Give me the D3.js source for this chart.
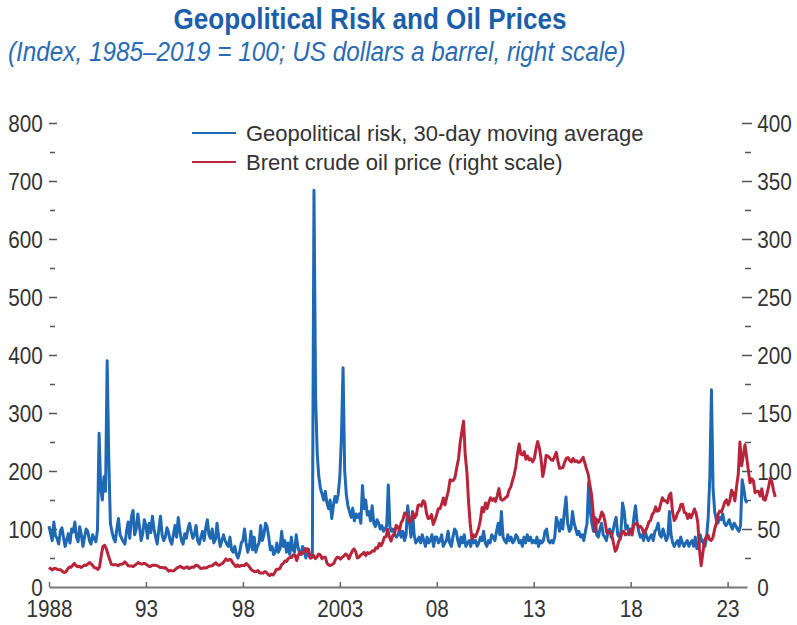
<!DOCTYPE html>
<html>
<head>
<meta charset="utf-8">
<script src="https://cdn.jsdelivr.net/npm/d3@7"></script>
<style>
  body { margin: 0; background: #fff; }
  svg text { font-family: "Liberation Sans", Arial, sans-serif; }
</style>
</head>
<body>
<svg id="chart" width="797" height="625"></svg>
<script>
// monthly series, starting January 1988
var startYear = 1988

// Geopolitical risk index, 30-day moving average (left scale), Jan 1988 - Jan 2024
var gprValues = [
  105, 92, 80, 112, 88, 84, 74, 96, 102, 85, 70, 82,      // 1988
  92, 76, 100, 95, 112, 86, 78, 104, 90, 70, 86, 100,     // 1989
  96, 80, 74, 90, 84, 78, 98, 265, 170, 150, 190, 165,    // 1990
  390, 220, 110, 95, 84, 78, 100, 118, 90, 84, 78, 74,    // 1991
  96, 112, 84, 120, 132, 90, 100, 126, 104, 80, 92, 116,  // 1992
  106, 84, 110, 94, 122, 100, 86, 74, 100, 122, 90, 80,   // 1993
  86, 102, 94, 80, 74, 90, 106, 86, 120, 96, 80, 74,      // 1994
  92, 84, 100, 110, 96, 84, 90, 106, 80, 74, 86, 96,      // 1995
  80, 102, 116, 90, 84, 100, 76, 82, 110, 86, 70, 80,     // 1996
  90, 80, 74, 70, 86, 64, 60, 70, 56, 50, 60, 76,         // 1997
  80, 100, 76, 60, 70, 96, 64, 86, 60, 70, 76, 106,       // 1998
  80, 90, 110, 104, 86, 64, 70, 56, 60, 76, 60, 66,       // 1999
  96, 70, 80, 60, 76, 56, 86, 64, 60, 90, 70, 60,         // 2000
  56, 70, 60, 50, 66, 54, 50, 60, 684, 330, 230, 190,     // 2001
  170, 160, 150, 165, 145, 135, 150, 118, 140, 156, 146, 160, // 2002
  190, 260, 378, 200, 160, 140, 130, 120, 136, 114, 126, 120, // 2003
  126, 110, 175, 135, 150, 124, 130, 114, 140, 110, 104, 116, // 2004
  110, 100, 106, 96, 100, 106, 176, 104, 96, 100, 90, 86, // 2005
  90, 100, 86, 96, 80, 90, 140, 116, 86, 130, 90, 76,     // 2006
  80, 86, 76, 90, 80, 70, 86, 76, 80, 90, 70, 86,         // 2007
  86, 76, 80, 90, 70, 76, 80, 96, 76, 70, 86, 100,        // 2008
  96, 80, 70, 86, 76, 90, 70, 76, 80, 70, 86, 76,         // 2009
  80, 70, 76, 86, 80, 96, 76, 70, 80, 76, 90, 86,         // 2010
  80, 96, 110, 90, 130, 86, 80, 76, 90, 80, 86, 76,       // 2011
  80, 90, 86, 76, 80, 70, 86, 76, 90, 80, 86, 76,         // 2012
  80, 76, 86, 70, 80, 76, 80, 96, 100, 80, 76, 80,        // 2013
  76, 86, 120, 110, 96, 116, 100, 130, 155, 110, 96, 100, // 2014
  130, 110, 100, 90, 96, 86, 90, 80, 96, 110, 180, 130,   // 2015
  110, 96, 120, 90, 86, 100, 110, 90, 86, 80, 96, 100,    // 2016
  86, 96, 110, 120, 90, 86, 96, 145, 130, 100, 106, 90,   // 2017
  100, 96, 120, 140, 110, 96, 86, 90, 80, 96, 86, 80,     // 2018
  86, 90, 80, 96, 100, 110, 90, 86, 100, 90, 80, 86,      // 2019
  130, 90, 76, 70, 76, 80, 70, 86, 76, 70, 76, 80,        // 2020
  70, 76, 80, 70, 86, 66, 70, 90, 80, 76, 70, 86,         // 2021
  120, 190, 340, 170, 130, 116, 110, 120, 116, 126, 110, 106, // 2022
  110, 116, 106, 100, 110, 106, 100, 96, 106, 185, 170, 150,  // 2023
  145                                                     // 2024
]

// Brent crude oil price, US dollars a barrel (right scale), Jan 1988 - Dec 2023
var oilValues = [
  16.8, 15.7, 14.7, 16.0, 15.9, 15.2, 14.9, 14.9, 13.4, 12.4, 13.0, 15.3, // 1988
  17.2, 16.9, 18.6, 20.3, 18.5, 17.4, 17.9, 16.9, 17.7, 18.9, 18.6, 19.8, // 1989
  21.1, 19.9, 18.4, 16.6, 16.4, 15.1, 17.2, 27.2, 34.9, 36.0, 33.0, 28.3, // 1990
  23.6, 19.5, 19.1, 19.2, 19.2, 18.3, 19.4, 19.6, 20.2, 21.6, 20.2, 18.3, // 1991
  18.2, 18.2, 17.6, 18.8, 19.9, 21.0, 20.2, 19.7, 20.2, 20.3, 19.1, 18.2, // 1992
  17.5, 18.5, 18.8, 18.7, 18.5, 17.7, 16.8, 16.9, 16.3, 16.8, 15.3, 13.7, // 1993
  14.4, 13.9, 13.8, 15.1, 16.4, 17.1, 17.9, 16.9, 16.1, 16.6, 17.5, 15.9, // 1994
  16.6, 17.2, 17.0, 18.7, 18.6, 17.4, 16.0, 16.2, 16.6, 16.3, 17.0, 17.9, // 1995
  18.0, 18.4, 19.9, 20.9, 19.2, 18.6, 19.7, 20.4, 22.2, 24.3, 22.8, 23.7, // 1996
  23.5, 20.9, 19.2, 17.5, 19.0, 17.6, 18.5, 18.6, 18.5, 20.2, 19.1, 17.1, // 1997
  15.1, 14.1, 13.2, 13.3, 14.2, 12.1, 12.0, 12.0, 13.4, 12.6, 11.0, 9.8,  // 1998
  11.1, 10.3, 12.5, 15.2, 15.3, 15.9, 19.0, 20.3, 22.5, 22.0, 24.6, 25.5, // 1999
  25.5, 27.8, 27.5, 22.7, 27.7, 29.8, 28.6, 30.0, 33.1, 30.9, 32.5, 25.0, // 2000
  25.6, 27.5, 24.5, 25.6, 28.4, 27.7, 24.5, 25.7, 25.6, 20.5, 18.9, 18.6, // 2001
  19.4, 20.3, 23.7, 25.7, 25.4, 24.1, 25.7, 26.7, 28.4, 27.5, 24.3, 28.0, // 2002
  31.2, 32.8, 30.3, 25.0, 25.8, 27.6, 28.4, 29.8, 27.1, 29.6, 28.8, 29.8, // 2003
  31.3, 30.9, 33.8, 33.4, 37.6, 35.5, 38.4, 43.0, 43.3, 49.8, 43.1, 39.6, // 2004
  44.5, 45.5, 53.1, 51.9, 49.0, 55.6, 57.9, 63.8, 63.7, 59.4, 56.2, 57.6, // 2005
  63.9, 59.7, 62.3, 70.4, 70.9, 69.7, 74.4, 73.0, 63.8, 59.0, 59.5, 62.4, // 2006
  53.9, 57.6, 62.1, 67.4, 67.5, 71.3, 76.8, 70.8, 77.2, 82.8, 92.5, 91.5, // 2007
  91.9, 94.8, 103.3, 110.4, 124.6, 134.0, 143.0, 113.4, 99.1, 72.8, 53.2, 41.6, // 2008
  44.9, 43.2, 46.8, 50.8, 57.9, 68.6, 64.9, 72.5, 67.7, 73.2, 77.0, 74.7, // 2009
  76.2, 73.8, 78.8, 84.8, 75.9, 74.8, 75.6, 77.1, 78.2, 83.5, 86.1, 91.4, // 2010
  96.5, 103.7, 114.6, 123.3, 114.5, 113.9, 116.7, 110.2, 112.8, 109.6, 110.5, 107.9, // 2011
  110.7, 119.3, 125.5, 119.8, 110.3, 95.2, 102.6, 113.4, 113.0, 111.5, 109.5, 109.2, // 2012
  112.3, 116.1, 108.5, 102.3, 102.6, 102.9, 107.7, 111.0, 111.6, 109.1, 107.8, 110.8, // 2013
  108.1, 108.9, 107.5, 107.8, 109.5, 111.8, 106.8, 101.6, 97.1, 87.4, 79.4, 62.3, // 2014
  47.8, 58.1, 55.9, 59.5, 64.6, 62.3, 55.9, 47.0, 47.2, 48.1, 44.4, 37.7, // 2015
  30.8, 33.2, 39.1, 41.6, 46.8, 48.3, 44.9, 45.8, 46.6, 49.5, 44.8, 53.3, // 2016
  54.6, 54.9, 51.6, 52.3, 50.3, 46.4, 48.5, 51.7, 56.2, 57.5, 62.7, 64.4, // 2017
  69.1, 65.3, 66.0, 72.1, 76.9, 74.4, 74.3, 72.5, 78.9, 81.0, 64.8, 57.4, // 2018
  59.4, 64.0, 66.1, 71.2, 71.3, 64.2, 63.9, 59.0, 62.8, 59.7, 63.2, 67.3, // 2019
  63.6, 55.7, 32.0, 18.4, 29.4, 40.3, 43.2, 44.7, 40.9, 40.2, 42.7, 49.9, // 2020
  54.8, 62.3, 65.4, 64.8, 68.5, 73.2, 75.2, 70.8, 74.5, 83.5, 80.9, 74.2, // 2021
  86.5, 97.1, 125.0, 104.6, 113.3, 122.7, 111.9, 100.5, 89.8, 93.3, 91.4, 81.3, // 2022
  82.5, 82.6, 78.4, 84.6, 75.5, 74.9, 80.1, 86.2, 93.7, 90.6, 82.9, 77.6  // 2023
]

var xTickYears = [1988, 1993, 1998, 2003, 2008, 2013, 2018, 2023]
var xTickLabels = ["1988", "93", "98", "2003", "08", "13", "18", "23"]
var leftTicks = [0, 100, 200, 300, 400, 500, 600, 700, 800]
var leftMinorTicks = [50, 150, 250, 350, 450, 550, 650, 750]
var rightTicks = [0, 50, 100, 150, 200, 250, 300, 350, 400]
var rightMinorTicks = [25, 75, 125, 175, 225, 275, 325, 375]

var seriesNames = ["Geopolitical risk, 30-day moving average", "Brent crude oil price (right scale)"]
var seriesColors = ["#1f68b3", "#b8243a"]

// chart dimensions
var plotLeft = 49
var plotRight = 747
var plotTop = 123
var plotBottom = 587

// the source uses a condensed typeface; squeeze the text horizontally
var condense = "scale(0.9,1)"

var svg = d3.select("#chart")

var x = d3.scaleLinear()
            .domain([1988, 2024])
            .range([plotLeft, plotRight])

// in the source the daily oil series runs on a stretched time base, ending past the axis
var xOil = d3.scaleLinear()
            .domain([1988, 2024])
            .range([plotLeft, 777])

var yLeft = d3.scaleLinear()
            .domain([0, 800])
            .range([plotBottom, plotTop])

var yRight = d3.scaleLinear()
            .domain([0, 400])
            .range([plotBottom, plotTop])

// Title
svg.append("g")
    .attr("transform", "translate(370,29)")
    .append("text")
    .attr("transform", condense)
    .attr("text-anchor", "middle")
    .attr("font-size", 29)
    .attr("font-weight", "bold")
    .attr("fill", "#1c5fa8")
    .text("Geopolitical Risk and Oil Prices")

svg.append("g")
    .attr("transform", "translate(8,61)")
    .append("text")
    .attr("transform", condense)
    .attr("font-size", 27)
    .attr("font-style", "italic")
    .attr("fill", "#2a6cb4")
    .text("(Index, 1985\u20132019 = 100; US dollars a barrel, right scale)")

// Axes
function styleAxis (g) {
    g.select(".domain").remove()
    g.selectAll(".tick line").attr("stroke", "#555").attr("stroke-width", 1.5)
    g.selectAll(".tick text")
        .attr("fill", "#333")
        .attr("font-size", 23)
        .attr("transform", condense)
}

svg.append("g")
    .attr("transform", "translate(" + plotLeft + ",0)")
    .call(d3.axisLeft(yLeft).tickValues(leftTicks).tickSize(-8).tickPadding(7))
    .call(styleAxis)
    .selectAll(".tick text").attr("dy", "0.36em")

svg.append("g")
    .attr("transform", "translate(" + (plotLeft + 1) + ",0)")
    .call(d3.axisLeft(yLeft).tickValues(leftMinorTicks).tickSize(-5).tickFormat(""))
    .call(styleAxis)

svg.append("g")
    .attr("transform", "translate(742,0)")
    .call(d3.axisRight(yRight).tickValues(rightTicks).tickSize(10).tickPadding(7))
    .call(styleAxis)
    .selectAll(".tick text").attr("dy", "0.36em")

svg.append("g")
    .attr("transform", "translate(745,0)")
    .call(d3.axisRight(yRight).tickValues(rightMinorTicks).tickSize(6).tickFormat(""))
    .call(styleAxis)

// remove tick dashes at zero, the baseline takes their place
svg.selectAll(".tick").filter(function (d) { return d === 0 }).select("line").remove()

var xAxisG = svg.append("g")
    .attr("transform", "translate(0," + plotBottom + ")")
    .call(d3.axisBottom(x)
            .tickValues(xTickYears)
            .tickSize(-5)
            .tickSizeOuter(0)
            .tickPadding(14)
            .tickFormat(function (d, i) { return xTickLabels[i] }))

xAxisG.select(".domain").attr("stroke", "#777").attr("stroke-width", 2)
xAxisG.selectAll(".tick line").attr("stroke", "#666").attr("stroke-width", 1.5)
xAxisG.selectAll(".tick text")
    .attr("fill", "#333")
    .attr("font-size", 23)
    .attr("transform", condense)

// Lines
var gprLine = d3.line()
    .x(function (d, i) { return x(startYear + i / 12) })
    .y(function (d) { return yLeft(d) })

var oilLine = d3.line()
    .x(function (d, i) { return xOil(startYear + i / 12) })
    .y(function (d) { return yRight(d) })

svg.append("path")
    .datum(gprValues)
    .attr("d", gprLine)
    .attr("fill", "none")
    .attr("stroke", seriesColors[0])
    .attr("stroke-width", 3)
    .attr("stroke-linejoin", "round")

svg.append("path")
    .datum(oilValues)
    .attr("d", oilLine)
    .attr("fill", "none")
    .attr("stroke", seriesColors[1])
    .attr("stroke-width", 3)
    .attr("stroke-linejoin", "round")

// Legend
var legend = svg.append("g")
    .attr("transform", "translate(192,133)")

seriesNames.forEach(function (name, i) {
    legend.append("line")
        .attr("x1", 0)
        .attr("x2", 44)
        .attr("y1", i * 29)
        .attr("y2", i * 29)
        .attr("stroke", seriesColors[i])
        .attr("stroke-width", 2)

    legend.append("text")
        .attr("x", 54)
        .attr("y", i * 29)
        .attr("dy", "0.35em")
        .attr("font-size", 22)
        .attr("fill", "#333")
        .text(name)
})
</script>
</body>
</html>
